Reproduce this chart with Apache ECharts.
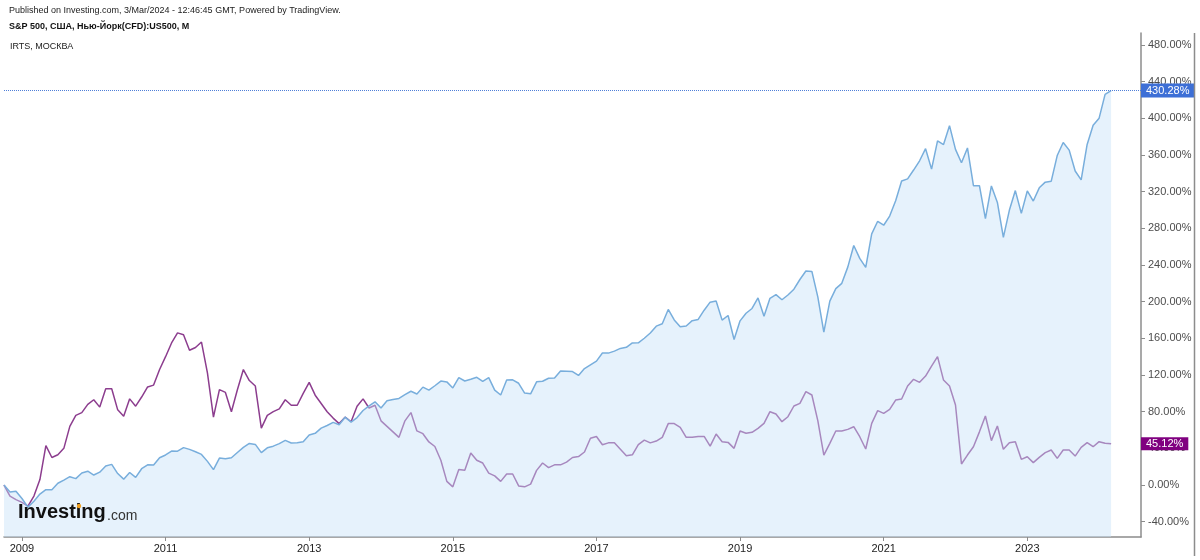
<!DOCTYPE html>
<html>
<head>
<meta charset="utf-8">
<script src="https://cdn.jsdelivr.net/npm/echarts@6/dist/echarts.min.js"></script>
<style>
html,body{margin:0;padding:0;background:#fff;}
#chart{width:1200px;height:560px;}
</style>
</head>
<body>
<div id="chart"></div>
<script>
// ---- data (monthly, % change since the first bar, Oct 2008) ----
const firstYear = 2008;
const firstMonth = 10;          // October
const slotCount = 191;          // months shown on the time axis (data + empty space on the right)

const yearLabels = ['2009','2011','2013','2015','2017','2019','2021','2023'];
const yTickValues = [-40,0,40,80,120,160,200,240,280,320,360,400,440,480];

const sp500Pct = [
  0,-7.5,-6.8,
  -14.7,-24.1,-17.6,-9.9,-5.1,-5.1,1.9,5.4,9.1,7.0,13.1,15.1,
  10.9,14.0,20.7,22.5,12.5,6.4,13.7,8.3,17.8,22.1,21.9,29.8,
  32.8,37.0,36.9,40.8,38.9,36.3,33.4,25.8,16.8,29.4,28.7,29.8,
  35.5,41.0,45.4,44.3,35.3,40.6,42.4,45.2,48.7,45.8,46.2,47.2,
  54.6,56.4,62.0,64.9,68.3,65.8,74.0,68.6,73.6,81.3,86.4,90.8,
  84.0,91.9,93.3,94.5,98.6,102.3,99.3,106.8,103.6,108.3,113.4,112.5,
  105.9,117.2,113.5,115.3,117.5,113.0,117.2,103.6,98.2,114.6,114.8,111.0,
  100.3,99.5,112.6,113.2,116.5,116.7,124.4,124.1,123.8,119.5,127.0,131.1,
  135.2,144.0,143.9,146.1,149.0,150.2,155.0,155.1,160.1,165.8,173.3,176.0,
  191.5,180.1,172.6,173.4,179.3,180.6,190.7,199.5,200.8,179.9,184.9,158.8,
  179.1,187.4,192.6,204.1,184.1,203.7,207.7,202.1,207.3,213.6,224.2,233.5,
  233.0,205.0,166.8,200.6,214.3,220.0,237.7,261.3,247.2,237.5,273.9,287.7,
  283.4,293.4,310.1,331.6,334.0,343.6,353.7,366.9,344.6,375.4,371.4,392.0,
  366.1,351.5,367.7,326.5,326.5,290.7,326.3,308.3,270.1,299.7,321.2,296.3,
  320.8,309.8,324.2,330.4,331.5,359.4,373.7,365.3,342.6,332.9,371.5,392.4,
  400.2,426.1,430.28
];

const irtsPct = [
  0,-12,-16,
  -19,-23,-12,6,43,30,33,40,64,76,79,88,
  93,85,105,105,82,75,94,86,96,107,109,126,
  140,155,166,164,147,150,156,122,74,104,101,80,
  104,126,114,108,62,76,80,83,93,87,87,100,
  112,98,89,80,73,67,74,69,86,94,84,87,
  70,64,58,52,70,79,59,56,47,42,27,4,
  -2,17,16,35,27,24,13,10,4,12,12,-1,
  -2,1,16,24,19,22,22,25,30,31,36,51,
  53,44,46,46,39,32,33,44,49,46,48,52,
  67,67,63,52,52,53,53,42.5,55.6,47.3,46.5,40,
  58.9,56.4,57.5,61.8,67.3,80,77.5,69.1,74.5,86.2,89.1,101.8,
  98.2,70,32.7,45.5,58.9,58.9,60.7,63.6,52.7,39.3,67.3,81.1,
  78.2,82.5,92.7,93.8,108,115.3,112,118.9,129.8,140,114.5,108,
  87.3,22.9,32.7,41.8,58,75.3,48.4,64.4,38.9,46.2,47.3,28,
  30.9,24.4,30.2,35.3,38.2,29.1,38.2,38.2,31.6,41.1,46.2,41.8,
  47.3,45.5,45.12
];

// ---- month categories ----
const months = [];
for (let k = 0; k < slotCount; k++) {
  const m0 = firstMonth - 1 + k;
  const y = firstYear + Math.floor(m0 / 12);
  const m = (m0 % 12) + 1;
  months.push(y + '-' + String(m).padStart(2, '0'));
}
const isYearTick = (idx, val) => val.endsWith('-01') && yearLabels.includes(val.slice(0, 4));

const FONT = "'Liberation Sans', Arial, Helvetica, sans-serif";

const chart = echarts.init(document.getElementById('chart'), null, {renderer: 'canvas'});

chart.setOption({
  animation: false,
  backgroundColor: '#ffffff',
  grid: {left: 4, right: 59, top: 33, bottom: 23, containLabel: false},
  xAxis: {
    type: 'category',
    data: months,
    boundaryGap: false,
    axisLine: {show: true, onZero: false, lineStyle: {color: '#8c8c8c', width: 1.5}},
    axisTick: {show: true, length: 4, interval: isYearTick, lineStyle: {color: '#8c8c8c'}},
    axisLabel: {
      show: true, interval: isYearTick, margin: 6,
      formatter: v => v.slice(0, 4),
      color: '#222', fontSize: 11, fontFamily: FONT
    },
    splitLine: {show: false}
  },
  yAxis: {
    type: 'value',
    position: 'right',
    min: -56.7,
    max: 493.1,
    axisLine: {show: true, lineStyle: {color: '#8c8c8c', width: 1.5}},
    axisTick: {show: true, length: 4, customValues: yTickValues, lineStyle: {color: '#8c8c8c'}},
    axisLabel: {
      show: true, customValues: yTickValues, margin: 7,
      formatter: v => v.toFixed(2) + '%',
      color: '#4d4d4d', fontSize: 11, fontFamily: FONT
    },
    splitLine: {show: false}
  },
  series: [
    {
      name: 'IRTS, МОСКВА',
      type: 'line',
      data: irtsPct,
      z: 1,
      showSymbol: false,
      symbol: 'none',
      lineStyle: {color: '#8c3d8e', width: 1.5},
      markLine: {
        silent: true,
        symbol: ['none', 'none'],
        lineStyle: {color: 'rgba(0,0,0,0)', width: 0},
        label: {
          show: true, position: 'end', distance: 0,
          formatter: p => Number(p.value).toFixed(2) + '%',
          backgroundColor: '#800080', color: '#ffffff',
          fontSize: 11, fontFamily: FONT, padding: [1, 5, 1, 5]
        },
        data: [{yAxis: irtsPct[irtsPct.length - 1]}]
      }
    },
    {
      name: 'S&P 500',
      type: 'line',
      data: sp500Pct,
      z: 2,
      showSymbol: false,
      symbol: 'none',
      lineStyle: {color: '#78aedc', width: 1.5},
      areaStyle: {color: 'rgba(200,226,248,0.65)', origin: 'start'},
      markLine: {
        silent: true,
        symbol: ['none', 'none'],
        lineStyle: {color: '#4f7fd8', type: 'dotted', width: 1},
        label: {
          show: true, position: 'end', distance: 0,
          formatter: p => Number(p.value).toFixed(2) + '%',
          backgroundColor: '#3d6fd6', color: '#ffffff',
          fontSize: 11, fontFamily: FONT, padding: [2, 5, 1, 5]
        },
        data: [{yAxis: sp500Pct[sp500Pct.length - 1]}]
      }
    }
  ],
  graphic: [
    {type: 'text', left: 9, top: 6, z: 10,
     style: {text: 'Published on Investing.com, 3/Mar/2024 - 12:46:45 GMT, Powered by TradingView.', fontSize: 9, fontFamily: FONT, fill: '#222'}},
    {type: 'text', left: 9, top: 22, z: 10,
     style: {text: 'S&P 500, США, Нью-Йорк(CFD):US500, M', fontSize: 9, fontWeight: 'bold', fontFamily: FONT, fill: '#111'}},
    {type: 'text', left: 10, top: 42, z: 10,
     style: {text: 'IRTS, МОСКВА', fontSize: 9, fontFamily: FONT, fill: '#222'}},
    {type: 'text', left: 18, top: 502, z: 10,
     style: {text: 'Investing', fontSize: 20, fontWeight: 'bold', fontFamily: FONT, fill: '#111'}},
    {type: 'text', left: 107, top: 509, z: 10,
     style: {text: '.com', fontSize: 14, fontFamily: FONT, fill: '#333'}},
    {type: 'circle', z: 11, shape: {cx: 79, cy: 506, r: 2.2}, style: {fill: '#f0a020'}},
    {type: 'line', z: 10, shape: {x1: 1194.5, y1: 33, x2: 1194.5, y2: 556},
     style: {stroke: '#8c8c8c', lineWidth: 1.5}}
  ]
});
</script>
</body>
</html>
